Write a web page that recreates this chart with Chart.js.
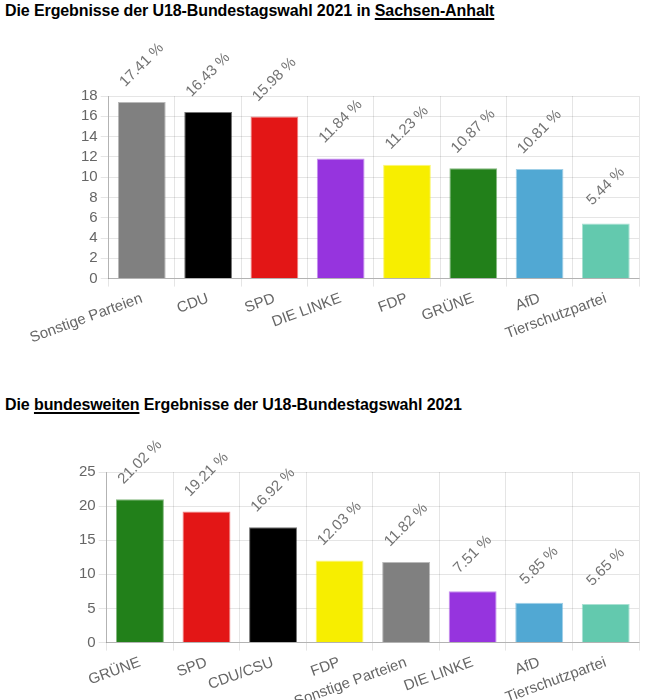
<!DOCTYPE html>
<html>
<head>
<meta charset="utf-8">
<script src="https://cdn.jsdelivr.net/npm/chart.js@4"></script>
<style>
  html, body { margin: 0; padding: 0; width: 649px; height: 700px; overflow: hidden; background: #fff; }
  body { position: relative; font-family: Arial, "Liberation Sans", sans-serif; }
  .heading { position: absolute; left: 5px; font-size: 16px; line-height: 18px; font-weight: bold; color: #000; white-space: nowrap; letter-spacing: -0.1px; }
  .heading u { text-decoration-thickness: 2px; text-underline-offset: 2px; }
  .box { position: absolute; left: 0; width: 649px; }
</style>
</head>
<body>

<div class="heading" style="top:2px">Die Ergebnisse der U18-Bundestagswahl 2021 in <u>Sachsen-Anhalt</u></div>
<div class="box" style="top:30px; height:320px"><canvas id="chart-land"></canvas></div>

<div class="heading" style="top:396px">Die <u>bundesweiten</u> Ergebnisse der U18-Bundestagswahl 2021</div>
<div class="box" style="top:420px; height:294px"><canvas id="chart-bund"></canvas></div>

<script>
// Sachsen-Anhalt
const landParties = ['Sonstige Parteien', 'CDU', 'SPD', 'DIE LINKE', 'FDP', 'GRÜNE', 'AfD', 'Tierschutzpartei']
const landValues = [17.41, 16.43, 15.98, 11.84, 11.23, 10.87, 10.81, 5.44]
const landTicks = [0, 2, 4, 6, 8, 10, 12, 14, 16, 18]

// bundesweit
const bundParties = ['GRÜNE', 'SPD', 'CDU/CSU', 'FDP', 'Sonstige Parteien', 'DIE LINKE', 'AfD', 'Tierschutzpartei']
const bundValues = [21.02, 19.21, 16.92, 12.03, 11.82, 7.51, 5.85, 5.65]
const bundTicks = [0, 5, 10, 15, 20, 25]

const partyColors = {
  'Sonstige Parteien': [128, 128, 128],
  'CDU': [0, 0, 0],
  'CDU/CSU': [0, 0, 0],
  'SPD': [227, 22, 22],
  'DIE LINKE': [150, 52, 222],
  'FDP': [247, 238, 0],
  'GRÜNE': [34, 128, 26],
  'AfD': [81, 168, 211],
  'Tierschutzpartei': [99, 201, 174]
}

Chart.defaults.font.family = "Arial, 'Liberation Sans', sans-serif"
Chart.defaults.font.size = 15
Chart.defaults.color = '#666'

// percent labels above the bars, turned by 45 degrees
const percentLabels = {
  id: 'percentLabels',
  afterDatasetsDraw(chart) {
    const ctx = chart.ctx
    const meta = chart.getDatasetMeta(0)
    const values = chart.data.datasets[0].data
    ctx.save()
    ctx.fillStyle = '#747474'
    ctx.font = "15px Arial, 'Liberation Sans', sans-serif"
    ctx.textAlign = 'center'
    ctx.textBaseline = 'middle'
    meta.data.forEach((bar, i) => {
      ctx.save()
      ctx.translate(bar.x, bar.y - 37)
      ctx.rotate(-Math.PI / 4)
      ctx.fillText(values[i].toFixed(2) + ' %', 0, 0)
      ctx.restore()
    })
    ctx.restore()
  }
}

function createPartyChart(canvas, parties, values, ticks, pad) {
  const fill = parties.map(p => 'rgb(' + partyColors[p].join(',') + ')')
  const edge = parties.map(p => 'rgba(' + partyColors[p].join(',') + ',0.55)')
  const step = ticks[1] - ticks[0]

  new Chart(canvas, {
    type: 'bar',
    data: {
      labels: parties,
      datasets: [{
        data: values,
        backgroundColor: fill,
        borderColor: edge,
        borderWidth: 1
      }]
    },
    options: {
      responsive: true,
      maintainAspectRatio: false,
      animation: false,
      layout: { padding: pad },
      plugins: {
        legend: { display: false },
        tooltip: { enabled: false }
      },
      scales: {
        x: {
          grid: { color: 'rgba(0,0,0,0.1)' },
          border: { color: 'rgba(0,0,0,0.22)' },
          ticks: { minRotation: 20, maxRotation: 20, autoSkip: false }
        },
        y: {
          min: ticks[0],
          max: ticks[ticks.length - 1],
          grid: { color: 'rgba(0,0,0,0.1)' },
          border: { color: 'rgba(0,0,0,0.22)' },
          ticks: { stepSize: step, autoSkip: false }
        }
      }
    },
    plugins: [percentLabels]
  })
}

createPartyChart(document.getElementById('chart-land'), landParties, landValues, landTicks,
  { left: 78, right: 10, top: 66, bottom: 0 })
createPartyChart(document.getElementById('chart-bund'), bundParties, bundValues, bundTicks,
  { left: 76, right: 10, top: 52, bottom: 0 })
</script>
</body>
</html>
